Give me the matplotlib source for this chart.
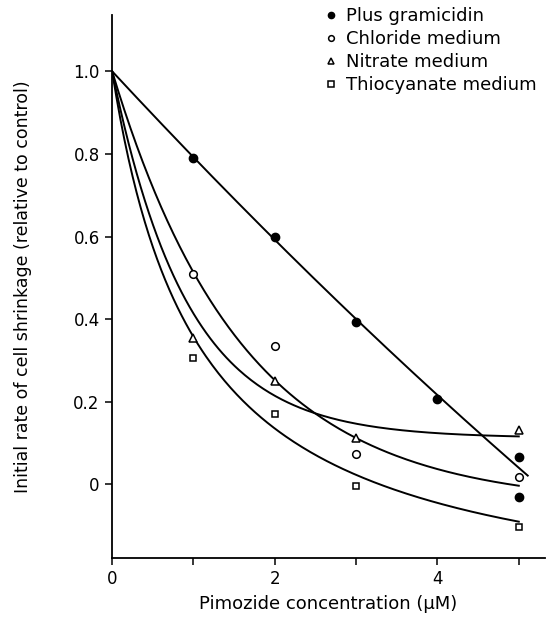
import numpy as np
import matplotlib
matplotlib.use('Agg')
import matplotlib.pyplot as plt

# Puntos medidos (concentración de pimozida en µM)
x_gram = [1, 2, 3, 4, 5, 5]
y_gram = [0.79, 0.60, 0.393, 0.206, 0.066, -0.03]

x_cl = [1, 2, 3, 5]
y_cl = [0.51, 0.335, 0.073, 0.017]

x_no3 = [1, 2, 3, 5]
y_no3 = [0.354, 0.25, 0.112, 0.131]

x_scn = [1, 2, 3, 5]
y_scn = [0.306, 0.17, -0.005, -0.104]

etiquetas = ['Plus gramicidin', 'Chloride medium', 'Nitrate medium', 'Thiocyanate medium']

# Curvas ajustadas (parámetros estimados a ojo del original)
xg = np.linspace(0, 5.11, 200)
yg = 1 - 0.212 * xg + 0.004 * xg**2
xc = np.linspace(0, 5, 200)
yc = -0.05 + 1.05 * np.exp(-0.623 * xc)
yn = 0.112 + 0.888 * np.exp(-1.08 * xc)
ys = -0.32 + 1.32 / (1 + 0.95 * xc)

plt.rcParams['font.family'] = ['DejaVu Sans']
fig = plt.figure(figsize=(5.47, 6.39), dpi=100)
ax = fig.add_axes([0.205, 0.127, 0.791, 0.85])

lw = 1.4
ax.plot(xg, yg, color='black', lw=lw)
ax.plot(xc, yc, color='black', lw=lw)
ax.plot(xc, yn, color='black', lw=lw)
ax.plot(xc, ys, color='black', lw=lw)

h1, = ax.plot(x_gram, y_gram, 'o', color='black', ms=6, zorder=3)
h2, = ax.plot(x_cl, y_cl, 'o', mfc='white', mec='black', mew=1.1, ms=5.5, zorder=3)
h3, = ax.plot(x_no3, y_no3, '^', mfc='white', mec='black', mew=1.1, ms=5.5, zorder=3)
h4, = ax.plot(x_scn, y_scn, 's', mfc='white', mec='black', mew=1.1, ms=5, zorder=3)

ax.set_xlim(0, 5.32)
ax.set_ylim(-0.178, 1.137)
ax.set_xticks([0, 1, 2, 3, 4, 5])
ax.set_xticklabels(['0', '', '2', '', '4', ''])
ax.set_yticks([0, 0.2, 0.4, 0.6, 0.8, 1.0])
ax.set_yticklabels(['0', '0.2', '0.4', '0.6', '0.8', '1.0'])
ax.tick_params(direction='out', length=5, width=1.1, labelsize=12, pad=4)

for lado in ['top', 'right']:
    ax.spines[lado].set_visible(False)
for lado in ['left', 'bottom']:
    ax.spines[lado].set_linewidth(1.3)

ax.set_xlabel('Pimozide concentration (µM)', fontsize=13, labelpad=5)
ax.set_ylabel('Initial rate of cell shrinkage (relative to control)', fontsize=12.5, labelpad=30)

ax.legend([h1, h2, h3, h4], etiquetas, loc='upper left',
          bbox_to_anchor=(0.565, 1.014), bbox_transform=fig.transFigure,
          frameon=False, fontsize=13, handlelength=0.6, handletextpad=0.55,
          labelspacing=0.28, markerscale=0.75)

fig.savefig('out.png', dpi=100)
